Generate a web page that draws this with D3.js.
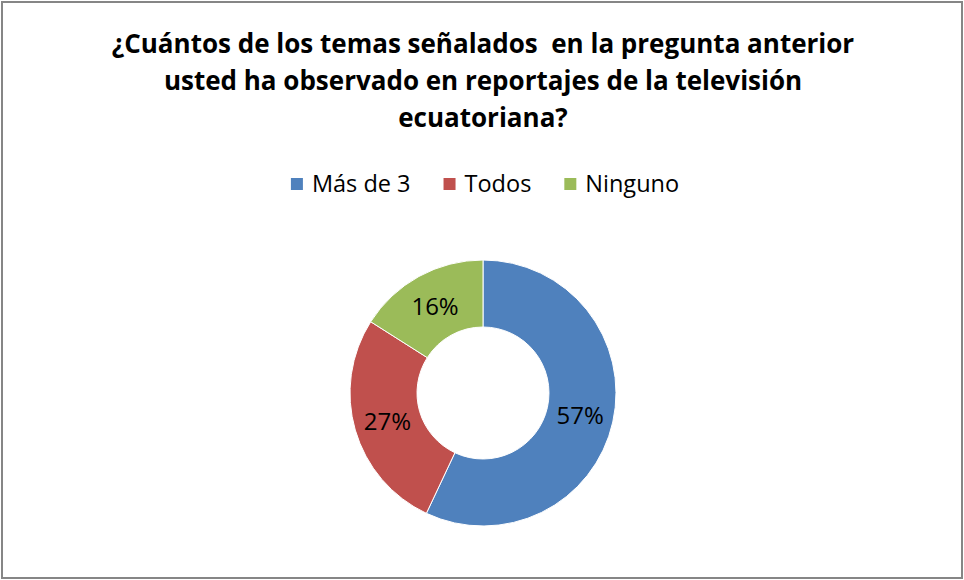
<!DOCTYPE html>
<html lang="es">
<head>
<meta charset="UTF-8">
<title>Temas observados</title>
<script src="https://d3js.org/d3.v7.min.js"></script>
<style>
    body { margin: 0; background: #fff; }
    svg { display: block; }
    .title { font-family: "Open Sans", "Liberation Sans", sans-serif; font-weight: bold; font-size: 26px; fill: #000; }
    .legend text { font-family: "Open Sans", "Liberation Sans", sans-serif; font-size: 23.5px; fill: #000; }
    .slice-label { font-family: "Open Sans", "Liberation Sans", sans-serif; font-size: 24px; fill: #000; }
</style>
</head>
<body>
<div id="chart"></div>
<script>
    const width = 964;
    const height = 580;

    // datos
    const categories = ["Más de 3", "Todos", "Ninguno"];
    const values = [57, 27, 16];
    const colors = ["#4F81BD", "#C0504D", "#9BBB59"];
    const titleLines = [
        "¿Cuántos de los temas señalados  en la pregunta anterior",
        "usted ha observado en reportajes de la televisión",
        "ecuatoriana?"
    ];

    const svg = d3.select("#chart").append("svg")
        .attr("width", width)
        .attr("height", height);

    svg.append("rect")
        .attr("x", 2).attr("y", 2)
        .attr("width", width - 4).attr("height", height - 4)
        .attr("fill", "#fff")
        .attr("stroke", "#868686")
        .attr("stroke-width", 2);

    // titulo
    const title = svg.append("text").attr("class", "title").attr("text-anchor", "middle")
        .attr("xml:space", "preserve");
    title.selectAll("tspan")
        .data(titleLines)
        .join("tspan")
        .attr("x", 483)
        .attr("y", (d, i) => 53 + i * 37)
        .text(d => d);

    // leyenda
    const legend = svg.append("g").attr("class", "legend");
    const items = legend.selectAll("g")
        .data(categories)
        .join("g");
    items.append("rect")
        .attr("width", 12).attr("height", 12)
        .attr("y", 178)
        .attr("fill", (d, i) => colors[i]);
    items.append("text")
        .attr("x", 21)
        .attr("y", 192)
        .text(d => d);

    let xPos = 0;
    const offsets = [];
    items.each(function () {
        const w = d3.select(this).select("text").node().getComputedTextLength();
        offsets.push(xPos);
        xPos += 21 + w + 33;
    });
    const totalW = xPos - 33;
    const startX = 485 - totalW / 2;
    items.attr("transform", (d, i) => `translate(${startX + offsets[i]},0)`);

    // dona
    const cx = 483, cy = 393;
    const outerR = 133, innerR = 66;
    const pie = d3.pie().sort(null).value(d => d);
    const arc = d3.arc().innerRadius(innerR).outerRadius(outerR);

    const g = svg.append("g").attr("transform", `translate(${cx},${cy})`);
    const arcs = pie(values);

    g.selectAll("path")
        .data(arcs)
        .join("path")
        .attr("d", arc)
        .attr("fill", (d, i) => colors[i])
        .attr("stroke", "#fff")
        .attr("stroke-width", 1);

    const total = d3.sum(values);
    g.selectAll("text.slice-label")
        .data(arcs)
        .join("text")
        .attr("class", "slice-label")
        .attr("text-anchor", "middle")
        .attr("dominant-baseline", "central")
        .attr("transform", d => `translate(${arc.centroid(d)})`)
        .text(d => Math.round(d.data / total * 100) + "%");
</script>
</body>
</html>
